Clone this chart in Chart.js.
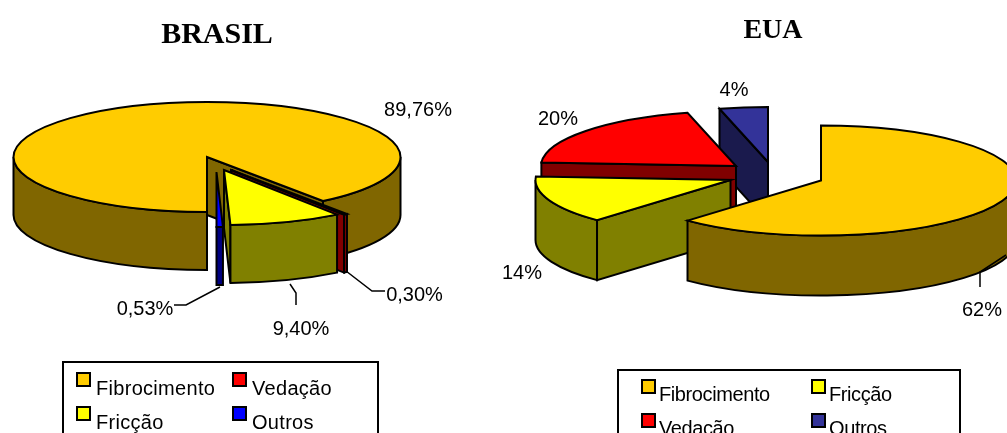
<!DOCTYPE html>
<html><head><meta charset="utf-8">
<script src="https://cdn.jsdelivr.net/npm/chart.js@4"></script>
<style>
html,body{margin:0;padding:0;background:#fff;width:1007px;height:433px;overflow:hidden}
canvas{position:absolute;left:0;top:0}
</style></head><body>
<canvas id="brasil" width="1007" height="433"></canvas>
<canvas id="eua" width="1007" height="433"></canvas>
<script>
// ---- data ----
const brasilLabels = ['Fibrocimento', 'Vedação', 'Fricção', 'Outros'];
const brasilValues = [89.76, 0.30, 9.40, 0.53];
const euaLabels = ['Fibrocimento', 'Fricção', 'Vedação', 'Outros'];
const euaValues = [62, 14, 20, 4];
const brasilColors = ['#FFCC00', '#FF0000', '#FFFF00', '#0000FF'];
const brasilSides = ['#806600', '#800000', '#808000', '#000080'];
const euaColors = ['#FFCC00', '#FFFF00', '#FF0000', '#333399'];
const euaSides = ['#806600', '#808000', '#800000', '#1A1A4D'];

// ---- layout (page pixels) ----
const LABEL_FONT = '20px "Liberation Sans"';
const brasilLayout = {
  cx: 207, cy: 157, rx: 193.5, ry: 55, depth: 58,
  shift: [[0, 0], [24, 13], [17, 13], [9.5, 15]],
  order: [0, 1, 2, 3],
  labels: [[418, 110], [414.5, 295], [301, 329], [145, 309]],
  leaders: [null, [[346, 271], [372, 291], [385, 291]], [[290, 284], [296, 293], [296, 305]], [[220, 287], [186, 305], [174, 305]]],
  format: v => v.toFixed(2).replace('.', ',') + '%',
  legend: {
    box: [63, 362, 315, 100],
    cols: [77, 233], rows: [373, 407], textDx: 19, swatch: 13, baseDy: 22,
    spacing: '0.3px', order: [0, 1, 2, 3]
  }
};
const euaLayout = {
  cx: 821, cy: 180.5, rx: 195, ry: 55, depth: 60,
  shift: [[0, 0], [-90.5, -0.5], [-85, -14.5], [-53, -18.5]],
  order: [3, 2, 1, 0],
  labels: [[982, 310], [522, 273], [558, 119], [734, 90]],
  leaders: [[[1006, 255], [980, 272], [980, 287]], null, null, null],
  format: v => v + '%',
  legend: {
    box: [618, 370, 342, 100],
    cols: [642, 812], rows: [380, 414], textDx: 17, swatch: 13, baseDy: 21,
    spacing: '-0.4px', order: [0, 1, 2, 3]
  }
};

const pie3d = {
  id: 'pie3d',
  beforeDatasetsDraw(chart, args, opts) {
    const L = opts.layout, ctx = chart.ctx, meta = chart.getDatasetMeta(0);
    ctx.save();
    ctx.lineWidth = 2; ctx.strokeStyle = '#000'; ctx.lineJoin = 'miter';
    L.order.forEach(i => {
      const el = meta.data[i];
      const ox = L.cx + L.shift[i][0], oy = L.cy + L.shift[i][1];
      const a0 = el.startAngle, a1 = el.endAngle, d = L.depth;
      const px = a => ox + L.rx * Math.cos(a), py = a => oy + L.ry * Math.sin(a);
      ctx.fillStyle = opts.sides[i];
      // radial walls that face the viewer
      [[a0, a0 - Math.PI / 2], [a1, a1 + Math.PI / 2]].forEach(([a, normal]) => {
        if (Math.sin(normal) < 1e-6) return;
        ctx.beginPath();
        ctx.moveTo(ox, oy); ctx.lineTo(px(a), py(a));
        ctx.lineTo(px(a), py(a) + d); ctx.lineTo(ox, oy + d); ctx.closePath();
        ctx.fill(); ctx.stroke();
      });
      // outer wall: only the part of the rim facing the viewer
      for (let k = -1; k < 3; k++) {
        const s = Math.max(a0, 2 * Math.PI * k), e = Math.min(a1, Math.PI + 2 * Math.PI * k);
        if (e <= s) continue;
        ctx.beginPath();
        ctx.ellipse(ox, oy, L.rx, L.ry, 0, s, e, false);
        ctx.ellipse(ox, oy + d, L.rx, L.ry, 0, e, s, true);
        ctx.closePath();
        ctx.fill(); ctx.stroke();
      }
      // top face: the library's own arc, squashed into perspective
      const R = el.outerRadius;
      ctx.save();
      ctx.translate(ox, oy); ctx.scale(L.rx / R, L.ry / R); ctx.translate(-el.x, -el.y);
      el.draw(ctx);
      ctx.beginPath();
      ctx.moveTo(el.x, el.y); ctx.arc(el.x, el.y, R, a0, a1); ctx.closePath();
      ctx.restore();
      ctx.stroke();
    });
    ctx.restore();
    return false;
  },
  afterDraw(chart, args, opts) {
    const L = opts.layout, ctx = chart.ctx;
    const values = chart.data.datasets[0].data, names = chart.data.labels;
    ctx.save();
    // leader lines
    ctx.strokeStyle = '#000'; ctx.lineWidth = 1.5;
    L.leaders.forEach(pts => {
      if (!pts) return;
      ctx.beginPath();
      pts.forEach((p, j) => j ? ctx.lineTo(p[0], p[1]) : ctx.moveTo(p[0], p[1]));
      ctx.stroke();
    });
    // value labels
    ctx.font = LABEL_FONT; ctx.fillStyle = '#000';
    ctx.textAlign = 'center'; ctx.textBaseline = 'middle';
    values.forEach((v, i) => ctx.fillText(L.format(v), L.labels[i][0], L.labels[i][1]));
    // legend box
    const g = L.legend;
    ctx.lineWidth = 2;
    ctx.strokeRect(g.box[0], g.box[1], g.box[2], g.box[3]);
    ctx.textAlign = 'left'; ctx.textBaseline = 'alphabetic';
    ctx.letterSpacing = g.spacing;
    g.order.forEach((i, n) => {
      const x = g.cols[n % 2], y = g.rows[Math.floor(n / 2)];
      ctx.fillStyle = chart.data.datasets[0].backgroundColor[i];
      ctx.fillRect(x, y, g.swatch, g.swatch);
      ctx.strokeRect(x, y, g.swatch, g.swatch);
      ctx.fillStyle = '#000';
      ctx.fillText(names[i], x + g.textDx, y + g.baseDy);
    });
    ctx.restore();
  }
};

function makeChart(id, title, titleSize, titleTop, rotation, labels, values, colors, sides, layout, padding) {
  return new Chart(document.getElementById(id), {
    type: 'pie',
    data: { labels, datasets: [{ data: values, backgroundColor: colors, borderWidth: 0 }] },
    options: {
      responsive: false, animation: false, rotation,
      layout: { padding },
      plugins: {
        legend: { display: false }, tooltip: { enabled: false },
        title: {
          display: true, text: title, color: '#000',
          font: { family: '"Liberation Serif"', size: titleSize, weight: 'bold' },
          padding: { top: titleTop, bottom: 0 }
        },
        pie3d: { layout, sides }
      }
    },
    plugins: [pie3d]
  });
}
makeChart('brasil', 'BRASIL', 30, 17, 180, brasilLabels, brasilValues, brasilColors, brasilSides, brasilLayout, { right: 573 });
makeChart('eua', 'EUA', 28, 14, 0, euaLabels, euaValues, euaColors, euaSides, euaLayout, { left: 539 });
</script>
</body></html>
